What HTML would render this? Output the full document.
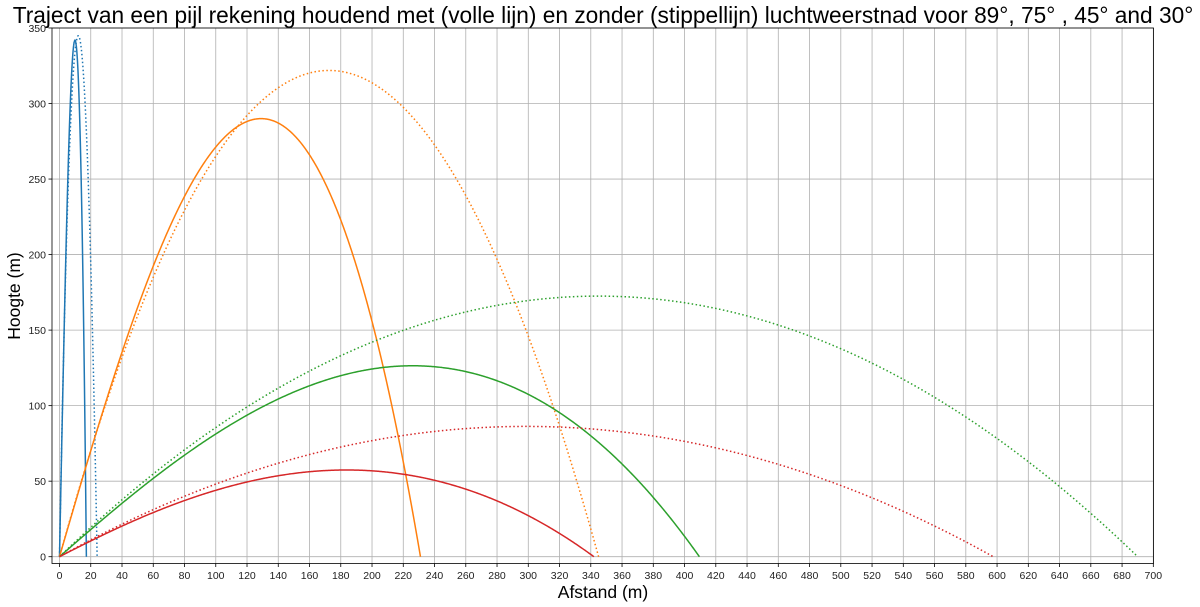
<!DOCTYPE html>
<html><head><meta charset="utf-8"><style>
body{margin:0;background:#fff;}
svg{display:block;font-family:"Liberation Sans","DejaVu Sans",sans-serif;}
</style></head><body>
<svg id="s" width="1200" height="607" viewBox="0 0 1200 607" xmlns="http://www.w3.org/2000/svg">
<text x="603" y="23" font-size="22.7" text-anchor="middle" fill="#000">Traject van een pijl rekening houdend met (volle lijn) en zonder (stippellijn) luchtweerstnad voor 89°, 75° , 45° and 30°</text>
<g id="grid"></g>
<g id="series"></g>
<rect x="52" y="28" width="1101.5" height="535.5" fill="none" stroke="#000" stroke-width="0.8"/>
<g id="ticks" font-size="10.5" fill="#222"></g>
<text x="603" y="598" font-size="17.5" text-anchor="middle">Afstand (m)</text>
<text transform="translate(20,296) rotate(-90)" font-size="17.5" text-anchor="middle">Hoogte (m)</text>
</svg>
<script>
var NS="http://www.w3.org/2000/svg";
function X(v){return 59.5+v*1.5626;}
function Y(v){return 556.7-v*1.5106;}
function el(p,t,a,txt){var e=document.createElementNS(NS,t);for(var k in a)e.setAttribute(k,a[k]);if(txt!=null)e.textContent=txt;document.getElementById(p).appendChild(e);return e;}
for(var v=0;v<=700;v+=20){el("grid","line",{x1:X(v),x2:X(v),y1:28,y2:563.5,stroke:"#b0b0b0","stroke-width":0.8});
 el("ticks","line",{x1:X(v),x2:X(v),y1:563.5,y2:567,stroke:"#000","stroke-width":0.8});
 el("ticks","text",{x:X(v),y:579,"text-anchor":"middle"},String(v));}
for(var v=0;v<=350;v+=50){el("grid","line",{x1:52,x2:1153.5,y1:Y(v),y2:Y(v),stroke:"#b0b0b0","stroke-width":0.8});
 el("ticks","line",{x1:48.5,x2:52,y1:Y(v),y2:Y(v),stroke:"#000","stroke-width":0.8});
 el("ticks","text",{x:46,y:Y(v)+3.8,"text-anchor":"end"},String(v));}
var cols={89:"#1f77b4",75:"#ff7f0e",45:"#2ca02c",30:"#d62728"};
var P={89:[17.2,9.9,342],75:[231,129,290],45:[409.5,226,126.4],30:[342,183.7,57.4]};
function fitN(r){var lo=0.5,hi=4;for(var i=0;i<50;i++){var n=(lo+hi)/2;var v=Math.pow(1/(n+1),1/n);if(v<r)lo=n;else hi=n;}return (lo+hi)/2;}
[89,75,45,30].forEach(function(a){
 var c=cols[a];
 var r=690*Math.sin(2*a*Math.PI/180),ta=Math.tan(a*Math.PI/180),dd="";
 for(var i=0;i<=400;i++){var x=r*i/400;var y=x*ta-x*x*ta/r;dd+=(i?" L":"M")+X(x).toFixed(2)+","+Y(y).toFixed(2);}
 el("series","path",{d:dd,fill:"none",stroke:c,"stroke-width":1.5,"stroke-dasharray":"1.5 2.475"});
 var R=P[a][0],xp=P[a][1],H=P[a][2];var n=fitN(xp/R);var k=H/(xp*(1-1/(n+1)));var d="";
 for(var i=0;i<=600;i++){var x=R*i/600;var y=k*x*(1-Math.pow(x/R,n));d+=(i?" L":"M")+X(x).toFixed(2)+","+Y(y).toFixed(2);}
 el("series","path",{d:d,fill:"none",stroke:c,"stroke-width":1.5});
});
</script>
</body></html>
